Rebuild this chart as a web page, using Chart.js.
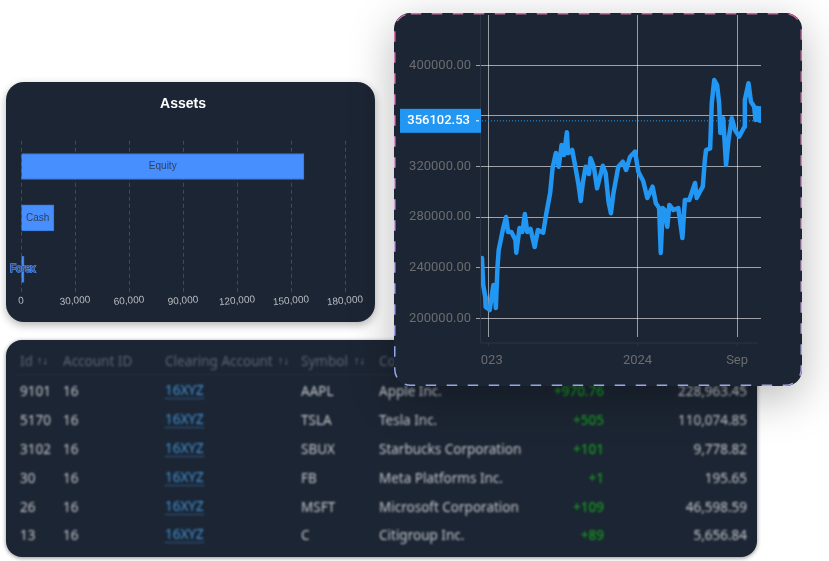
<!DOCTYPE html>
<html>
<head>
<meta charset="utf-8">
<title>Assets and account overview</title>
<script src="https://cdn.jsdelivr.net/npm/chart.js@4"></script>
<style>
    html, body { margin: 0; padding: 0; background: #fff; width: 829px; height: 561px; overflow: hidden; }
    .card { position: absolute; background: #1c2533; }
    #tableCard { left: 6px; top: 340px; width: 751px; height: 217px; border-radius: 16px; box-shadow: 0 1px 4px rgba(0,0,0,.45); overflow: hidden; }
    #tableBlur { position: absolute; inset: 0; filter: blur(1.2px); font: 13.5px "Noto Sans", sans-serif; color: #c2c6cb; }
    #tableBlur span { position: absolute; white-space: nowrap; transform: translateY(-50%); }
    #tableBlur .head { color: #5a6576; }
    #tableBlur .arrow { color: #7a8494; font-size: 11px; }
    #tableBlur .link { color: #3f93d6; border-bottom: 1px dotted #3f93d6; line-height: 15px; }
    #tableBlur .qty { color: #159a1f; font-weight: 500; }
    #tableBlur .rule { position: absolute; left: 9px; right: 9px; height: 1px; background: #253042; }
    #barCard { left: 6px; top: 82px; width: 369px; height: 240px; border-radius: 18px; box-shadow: 0 3px 9px rgba(0,0,0,.3); }
    #lineCard { left: 394px; top: 13px; width: 408px; height: 373px; border-radius: 16px; box-shadow: 0 12px 45px rgba(0,0,0,.28); }
    canvas { position: absolute; left: 0; top: 0; filter: blur(0.35px); }
    svg { position: absolute; left: 0; top: 0; }
</style>
</head>
<body>
<div class="card" id="tableCard"><div id="tableBlur"></div></div>
<div class="card" id="barCard"><canvas id="barChart" width="369" height="240"></canvas></div>
<div class="card" id="lineCard">
    <canvas id="lineChart" width="408" height="373"></canvas>
    <svg width="408" height="373">
        <defs>
            <linearGradient id="dashColor" x1="0.6" y1="0" x2="0.4" y2="1">
                <stop offset="0" stop-color="#d4609c"/>
                <stop offset="0.55" stop-color="#d9a0d8"/>
                <stop offset="1" stop-color="#94a8e6"/>
            </linearGradient>
        </defs>
        <rect x="0.75" y="0.75" width="406.5" height="371.5" rx="16" fill="none"
              stroke="url(#dashColor)" stroke-width="1.5" stroke-dasharray="10.5 10.5"/>
    </svg>
</div>

<script>
// Assets bar chart data
const assetCategories = ['Equity', 'Cash', 'Forex'];
const assetValues = [157200, 18300, 1700];
const assetTicks = [0, 30000, 60000, 90000, 120000, 150000, 180000];
const assetTickLabels = ['0', '30,000', '60,000', '90,000', '120,000', '150,000', '180,000'];

// Price line data, days counted from the start of 2023
const priceDays = [
    -16, -13, -8, -7, 3, 7, 12, 15, 18, 22, 25, 30, 36, 43, 48, 56, 66, 68, 76, 83,
    89, 95, 103, 113, 121, 134, 141, 151, 157, 165, 172, 179, 185, 192, 195, 205, 212, 220, 226, 231,
    238, 246, 250, 258, 266, 280, 287, 294, 300, 306, 318, 329, 337, 347, 359, 367, 379, 389, 402, 410,
    418, 422, 427, 432, 438, 443, 453, 465, 475, 481, 492, 506, 510, 518, 525, 530, 533, 543, 547, 553,
    560, 565, 568, 575, 582, 588, 596, 604, 614, 627, 628, 637, 643, 651, 654, 658, 661, 665, 666
];
const priceValues = [
    247670, 226324, 216838, 208933, 206561, 216047, 226324, 222372, 208142, 240553,
    253992, 261896, 271382, 280078, 268221, 268221, 261896, 251857, 271382, 268221,
    282451, 268221, 270591, 256364, 269801, 267667, 281659, 299050, 318812, 330669,
    319840, 336994, 329089, 347033, 330433, 333041, 321184, 306718, 292727, 306955,
    319840, 314069, 326480, 319840, 302765, 320630, 314623, 292173, 283003, 298813,
    319840, 323794, 317231, 327745, 331700, 315887, 308537, 295097, 304030, 290908,
    287192, 251620, 287192, 285611, 272410, 289565, 285611, 287192, 263477, 293518,
    293518, 306956, 295097, 300078, 304031, 325138, 333040, 334385, 370192, 388376,
    384424, 370192, 346480, 358100, 321184, 340946, 358100, 348851, 343555, 351465,
    372566, 385768, 371222, 367270, 356761, 366242, 356761, 366005, 356102.53
];
const lastPrice = 356102.53;
const priceTicks = [200000, 240000, 280000, 320000, 360000, 400000];
const dayTicks = [0, 365, 609];
const dayTickLabels = ['  023', '2024', 'Sep'];

// Table contents
const tableHeaders = ['Id', 'Account ID', 'Clearing Account', 'Symbol', 'Company'];
const tableIds = ['9101', '5170', '3102', '30', '26', '13'];
const tableAccounts = ['16', '16', '16', '16', '16', '16'];
const tableClearing = ['16XYZ', '16XYZ', '16XYZ', '16XYZ', '16XYZ', '16XYZ'];
const tableSymbols = ['AAPL', 'TSLA', 'SBUX', 'FB', 'MSFT', 'C'];
const tableCompanies = ['Apple Inc.', 'Tesla Inc.', 'Starbucks Corporation', 'Meta Platforms Inc.', 'Microsoft Corporation', 'Citigroup Inc.'];
const tableQuantities = ['+970.76', '+505', '+101', '+1', '+109', '+89'];
const tableAmounts = ['228,963.45', '110,074.85', '9,778.82', '195.65', '46,598.59', '5,656.84'];

function addCell(parent, text, className, left, top, right) {
    const cell = document.createElement('span');
    cell.textContent = text;
    if (className) cell.className = className;
    if (right !== undefined) cell.style.right = right + 'px';
    else cell.style.left = left + 'px';
    cell.style.top = top + 'px';
    parent.appendChild(cell);
}

function renderTable() {
    const box = document.getElementById('tableBlur');
    const columns = [14, 57, 159, 295, 373];
    const rowTops = [51, 80, 109, 138, 167, 195];

    tableHeaders.forEach((name, i) => addCell(box, name, 'head', columns[i], 21));
    // Sort arrows next to the headers
    addCell(box, '\u2191\u2193', 'arrow', 31, 19);
    addCell(box, '\u2191\u2193', 'arrow', 272, 19);
    addCell(box, '\u2191\u2193', 'arrow', 348, 19);

    const headRule = document.createElement('div');
    headRule.className = 'rule';
    headRule.style.top = '34px';
    box.appendChild(headRule);

    rowTops.forEach((top, i) => {
        addCell(box, tableIds[i], '', columns[0], top);
        addCell(box, tableAccounts[i], '', columns[1], top);
        addCell(box, tableClearing[i], 'link', columns[2], top);
        addCell(box, tableSymbols[i], '', columns[3], top);
        addCell(box, tableCompanies[i], '', columns[4], top);
        addCell(box, tableQuantities[i], 'qty', 0, top, 153);
        addCell(box, tableAmounts[i], '', 0, top, 10);
    });
}

// Writes the labels inside the bars and the slanted value ticks
const assetLabels = {
    id: 'assetLabels',
    afterDatasetsDraw(chart) {
        const ctx = chart.ctx;
        const scale = chart.scales.x;
        ctx.save();
        ctx.font = '10px "Liberation Sans"';
        ctx.textAlign = 'center';
        ctx.textBaseline = 'middle';
        chart.getDatasetMeta(0).data.forEach((bar, i) => {
            const middle = (bar.x + bar.base) / 2;
            ctx.lineWidth = 1.5;
            ctx.strokeStyle = '#478eff';
            ctx.strokeText(assetCategories[i], middle, bar.y);
            ctx.fillStyle = '#33415e';
            ctx.fillText(assetCategories[i], middle, bar.y);
        });
        ctx.fillStyle = '#b9bdc4';
        assetTicks.forEach((tick, i) => {
            ctx.save();
            ctx.translate(scale.getPixelForValue(tick), scale.top + 6);
            ctx.rotate(-5 * Math.PI / 180);
            ctx.fillText(assetTickLabels[i], 0, 0);
            ctx.restore();
        });
        ctx.restore();
    }
};

function renderAssetsChart() {
    new Chart(document.getElementById('barChart'), {
        type: 'bar',
        data: {
            labels: assetCategories,
            datasets: [{
                data: assetValues,
                backgroundColor: '#478eff',
                borderColor: '#3a78d6',
                borderWidth: 1,
                barThickness: 26
            }]
        },
        options: {
            indexAxis: 'y',
            responsive: false,
            animation: false,
            layout: { autoPadding: false, padding: { left: 15, right: 30 } },
            plugins: {
                legend: { display: false },
                tooltip: { enabled: false },
                title: {
                    display: true,
                    text: 'Assets',
                    color: '#fff',
                    fullSize: false,
                    font: { family: '"Liberation Sans"', size: 14, weight: 'bold' },
                    padding: { top: 14, bottom: 28 }
                }
            },
            scales: {
                x: {
                    min: 0,
                    max: 180000,
                    afterBuildTicks: (scale) => { scale.ticks = assetTicks.map(value => ({ value })); },
                    afterFit: (scale) => { scale.height = 27; },
                    ticks: { display: false },
                    border: { display: false, dash: [4, 3] },
                    grid: { color: '#414a5a', drawTicks: false }
                },
                y: {
                    afterFit: (scale) => { scale.width = 0; },
                    ticks: { display: false },
                    border: { display: false },
                    grid: { display: false }
                }
            }
        },
        plugins: [assetLabels]
    });
}

// Faint axis lines, small ticks and the blue last-price tag
const priceOverlay = {
    id: 'priceOverlay',
    afterDraw(chart) {
        const ctx = chart.ctx;
        const area = chart.chartArea;
        const y = chart.scales.y.getPixelForValue(lastPrice);
        ctx.save();
        ctx.strokeStyle = '#2a3443';
        ctx.lineWidth = 1;
        ctx.beginPath();
        ctx.moveTo(area.left - 0.5, area.top);
        ctx.lineTo(area.left - 0.5, area.bottom + 6);
        ctx.lineTo(area.right - 3, area.bottom + 6);
        dayTicks.forEach(tick => {
            const x = chart.scales.x.getPixelForValue(tick);
            ctx.moveTo(x, area.bottom + 6);
            ctx.lineTo(x, area.bottom + 9);
        });
        ctx.stroke();

        ctx.fillStyle = '#2196f3';
        ctx.fillRect(area.left - 81, y - 12, 81, 24);
        ctx.fillStyle = '#fff';
        ctx.font = '500 13px Roboto';
        ctx.textAlign = 'right';
        ctx.textBaseline = 'middle';
        ctx.fillText(lastPrice.toFixed(2), area.left - 11, y);
        ctx.fillRect(area.left - 5, y - 0.5, 3, 1);
        ctx.restore();
    }
};

function renderPriceChart() {
    new Chart(document.getElementById('lineChart'), {
        type: 'line',
        data: {
            datasets: [
                {
                    data: [{ x: priceDays[0], y: lastPrice }, { x: priceDays[priceDays.length - 1], y: lastPrice }],
                    borderColor: '#2196f3',
                    borderWidth: 1,
                    borderDash: [1, 2],
                    pointRadius: 0
                },
                {
                    data: priceDays.map((day, i) => ({ x: day, y: priceValues[i] })),
                    borderColor: '#2196f3',
                    borderWidth: 4.5,
                    borderJoinStyle: 'round',
                    borderCapStyle: 'round',
                    tension: 0,
                    pointRadius: 0
                }
            ]
        },
        options: {
            responsive: false,
            animation: false,
            layout: { autoPadding: false, padding: { top: 2, right: 41 } },
            plugins: { legend: { display: false }, tooltip: { enabled: false } },
            scales: {
                x: {
                    type: 'linear',
                    min: -18.4,
                    max: 667.6,
                    afterBuildTicks: (scale) => { scale.ticks = dayTicks.map(value => ({ value })); },
                    afterFit: (scale) => {
                        scale.height = 49;
                        scale.paddingLeft = 0;
                        scale.paddingRight = 0;
                    },
                    border: { display: false },
                    grid: { color: 'rgba(255,255,255,0.55)', drawTicks: false },
                    ticks: {
                        autoSkip: false,
                        maxRotation: 0,
                        padding: 16,
                        color: '#6a6c6f',
                        font: { family: 'Roboto', size: 13 },
                        callback: (value) => dayTickLabels[dayTicks.indexOf(value)]
                    }
                },
                y: {
                    min: 185217,
                    max: 439760,
                    afterBuildTicks: (scale) => { scale.ticks = priceTicks.map(value => ({ value })); },
                    afterFit: (scale) => {
                        scale.width = 87;
                        scale.paddingTop = 0;
                        scale.paddingBottom = 0;
                    },
                    border: { display: false },
                    grid: { color: 'rgba(255,255,255,0.58)', tickLength: 5 },
                    ticks: {
                        padding: 5,
                        color: '#6a6c6f',
                        font: { family: 'Roboto', size: 13 },
                        callback: (value) => value.toFixed(2)
                    }
                }
            }
        },
        plugins: [priceOverlay]
    });
}

renderTable();
renderAssetsChart();
renderPriceChart();
</script>
</body>
</html>
